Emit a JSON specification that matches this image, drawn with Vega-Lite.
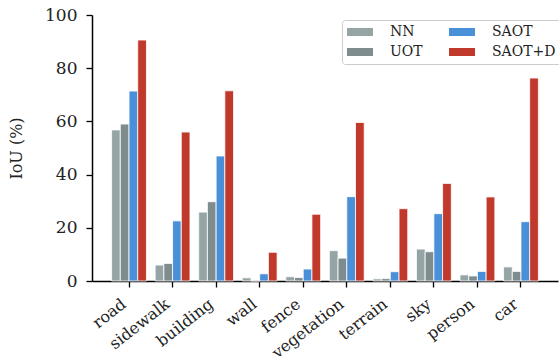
{
  "$schema": "https://vega.github.io/schema/vega-lite/v6.json",
  "width": 466,
  "height": 266,
  "autosize": "none",
  "padding": {"left": 92, "top": 15, "right": 1, "bottom": 75},
  "config": {
    "font": "DejaVu Serif",
    "view": {"stroke": null},
    "axis": {"labelFont": "DejaVu Serif", "titleFont": "DejaVu Serif", "labelColor": "#222", "titleColor": "#222", "domainColor": "#000", "tickColor": "#000"},
    "legend": {"labelFont": "DejaVu Serif", "titleFont": "DejaVu Serif"}
  },
  "data": {
    "values": [
      {"cls": "road", "method": "NN", "iou": 56.8},
      {"cls": "road", "method": "UOT", "iou": 59.0},
      {"cls": "road", "method": "SAOT", "iou": 71.4},
      {"cls": "road", "method": "SAOT+D", "iou": 90.6},
      {"cls": "sidewalk", "method": "NN", "iou": 6.0},
      {"cls": "sidewalk", "method": "UOT", "iou": 6.6},
      {"cls": "sidewalk", "method": "SAOT", "iou": 22.6},
      {"cls": "sidewalk", "method": "SAOT+D", "iou": 56.0},
      {"cls": "building", "method": "NN", "iou": 25.9},
      {"cls": "building", "method": "UOT", "iou": 29.8},
      {"cls": "building", "method": "SAOT", "iou": 47.0},
      {"cls": "building", "method": "SAOT+D", "iou": 71.5},
      {"cls": "wall", "method": "NN", "iou": 1.2},
      {"cls": "wall", "method": "UOT", "iou": 0.0},
      {"cls": "wall", "method": "SAOT", "iou": 2.7},
      {"cls": "wall", "method": "SAOT+D", "iou": 10.8},
      {"cls": "fence", "method": "NN", "iou": 1.6},
      {"cls": "fence", "method": "UOT", "iou": 1.3},
      {"cls": "fence", "method": "SAOT", "iou": 4.5},
      {"cls": "fence", "method": "SAOT+D", "iou": 25.1},
      {"cls": "vegetation", "method": "NN", "iou": 11.4},
      {"cls": "vegetation", "method": "UOT", "iou": 8.6},
      {"cls": "vegetation", "method": "SAOT", "iou": 31.7},
      {"cls": "vegetation", "method": "SAOT+D", "iou": 59.6},
      {"cls": "terrain", "method": "NN", "iou": 0.8},
      {"cls": "terrain", "method": "UOT", "iou": 0.9},
      {"cls": "terrain", "method": "SAOT", "iou": 3.5},
      {"cls": "terrain", "method": "SAOT+D", "iou": 27.2},
      {"cls": "sky", "method": "NN", "iou": 12.0},
      {"cls": "sky", "method": "UOT", "iou": 11.0},
      {"cls": "sky", "method": "SAOT", "iou": 25.3},
      {"cls": "sky", "method": "SAOT+D", "iou": 36.7},
      {"cls": "person", "method": "NN", "iou": 2.3},
      {"cls": "person", "method": "UOT", "iou": 1.9},
      {"cls": "person", "method": "SAOT", "iou": 3.6},
      {"cls": "person", "method": "SAOT+D", "iou": 31.6},
      {"cls": "car", "method": "NN", "iou": 5.3},
      {"cls": "car", "method": "UOT", "iou": 3.6},
      {"cls": "car", "method": "SAOT", "iou": 22.3},
      {"cls": "car", "method": "SAOT+D", "iou": 76.3}
    ]
  },
  "mark": {"type": "bar", "stroke": "white", "strokeWidth": 0.8},
  "encoding": {
    "x": {
      "field": "cls", "type": "nominal", "sort": null,
      "scale": {"paddingInner": 0.2, "paddingOuter": 0.45},
      "axis": {"title": null, "labelFont": "DejaVu Serif", "labelAngle": -38, "labelAlign": "right", "labelBaseline": "bottom", "labelFontSize": 16, "labelPadding": 21, "labelDx": -2, "tickSize": 6, "tickWidth": 1.3, "domainWidth": 1.5}
    },
    "xOffset": {"field": "method", "type": "nominal", "sort": ["NN", "UOT", "SAOT", "SAOT+D"], "scale": {"paddingInner": 0, "paddingOuter": 0}},
    "y": {
      "field": "iou", "type": "quantitative",
      "scale": {"domain": [0, 100], "nice": false},
      "axis": {"title": "IoU (%)", "values": [0, 20, 40, 60, 80, 100], "grid": false, "labelFont": "DejaVu Serif", "labelFontSize": 17, "titleFontSize": 16, "titleFontWeight": "normal", "labelPadding": 9, "titlePadding": 20, "tickSize": 6, "tickWidth": 1.3, "domainWidth": 1.5}
    },
    "color": {
      "field": "method", "type": "nominal",
      "scale": {"domain": ["NN", "UOT", "SAOT", "SAOT+D"], "range": ["#95a5a6", "#7f8c8d", "#4a90d9", "#c0392b"]},
      "legend": {
        "title": null, "orient": "none", "legendX": 250, "legendY": 5, "columns": 2, "direction": "vertical",
        "symbolType": "M-1.857,-0.57H1.857V0.57H-1.857Z", "symbolSize": 196, "symbolStrokeWidth": 0, "symbolOffset": 6,
        "labelFont": "DejaVu Serif", "labelFontSize": 14, "labelColor": "#222", "labelOffset": 23,
        "columnPadding": 26, "rowPadding": 6, "padding": 5,
        "strokeColor": "#cccccc", "cornerRadius": 3, "fillColor": "white"
      }
    }
  }
}
